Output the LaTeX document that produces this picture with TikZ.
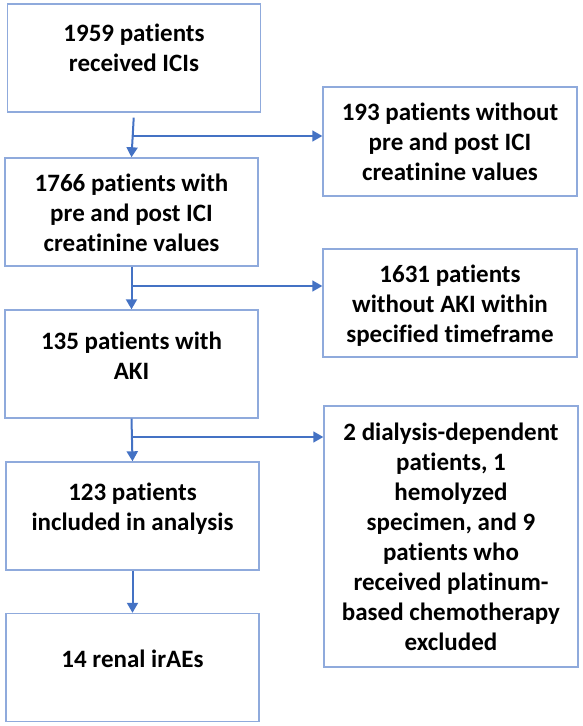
\documentclass[tikz,border=0pt]{standalone}
\usepackage{fontspec}
\setmainfont{Carlito}[Ligatures=CommonOff]
\usetikzlibrary{positioning,arrows.meta}
\definecolor{boxblue}{HTML}{8FAADC}
\definecolor{arrowblue}{HTML}{4472C4}
\begin{document}
\begin{tikzpicture}[x=1pt,y=-1pt,line join=miter,>={Triangle[length=10pt,width=11pt]},
  frame/.style={draw=boxblue,line width=1.4pt,minimum width=253pt,minimum height=108pt,inner sep=0pt},
  boxtext/.style={font=\fontsize{25}{30}\selectfont\bfseries,align=center,inner sep=0pt,text=black},
  flow/.style={draw=arrowblue,line width=2pt,->},
  side/.style={draw=arrowblue,line width=1.5pt,->}]
  \useasboundingbox (0,0) rectangle (583,726);
  \node[frame] (b1) at (134,58) {};
  \node[frame] (b2) at (131.5,212) {};
  \node[frame] (b3) at (131.5,364) {};
  \node[frame] (b4) at (132.5,516) {};
  \node[frame] (b5) at (132.5,667.5) {};
  \node[frame,minimum width=254pt,minimum height=109pt] (r1) at (450,141.5) {};
  \node[frame,minimum width=254pt] (r2) at (450,303) {};
  \node[frame,minimum width=254pt,minimum height=261pt] (r3) at (451,536.5) {};
  \node[boxtext,below=20pt of b1.north] (t1) {1959 patients\\received ICIs};
  \node[boxtext,below=16pt of b2.north] (t2) {1766 patients with\\pre and post ICI\\creatinine values};
  \node[boxtext,below=22pt of b3.north] (t3) {135 patients with\\AKI};
  \node[boxtext,below=21pt of b4.north] (t4) {123 patients\\included in analysis};
  \node[boxtext,below=37pt of b5.north] (t5) {14 renal irAEs};
  \node[boxtext,below=16pt of r1.north] (s1) {193 patients without\\pre and post ICI\\creatinine values};
  \node[boxtext,below=16pt of r2.north] (s2) {1631 patients\\without AKI within\\specified timeframe};
  \node[boxtext,below=17pt of r3.north] (s3) {2 dialysis-dependent\\patients, 1\\hemolyzed\\specimen, and 9\\patients who\\received platinum-\\based chemotherapy\\excluded};
  \coordinate (j1) at (133,136);
  \coordinate (j2) at (132,286);
  \coordinate (j3) at (132,437);
  \draw[flow,shorten <=5pt] (b1.south) -- (b2.north);
  \draw[flow] (b2.south) -- (b3.north);
  \draw[flow] (b3.south) -- (b4.north);
  \draw[flow] (b4.south) -- (b5.north);
  \draw[side] (j1) -- (j1 -| r1.west);
  \draw[side] (j2) -- (j2 -| r2.west);
  \draw[side] (j3) -- (j3 -| r3.west);
\end{tikzpicture}
\end{document}
